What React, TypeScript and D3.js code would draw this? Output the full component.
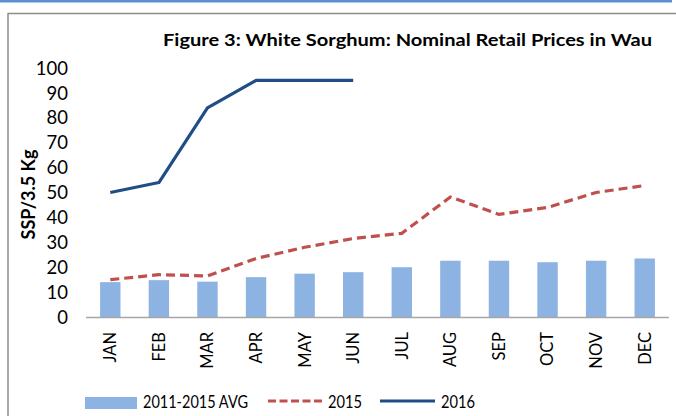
import * as d3 from "d3";

const months = ["JAN", "FEB", "MAR", "APR", "MAY", "JUN", "JUL", "AUG", "SEP", "OCT", "NOV", "DEC"];
const avg20112015 = [14, 14.8, 14.2, 16, 17.4, 18, 20, 22.6, 22.6, 22, 22.6, 23.5];
const prices2015 = [15, 17, 16.5, 23.5, 28, 31.5, 33.6, 48.2, 41.2, 44, 50, 52.8];
const prices2016 = [50, 54, 84, 95, 95, 95];
const yTicks = [0, 10, 20, 30, 40, 50, 60, 70, 80, 90, 100];

const WIDTH = 676;
const HEIGHT = 416;
const M = { left: 86, right: 669, top: 68, bottom: 317 };
const FONT = "Lato, 'Open Sans', sans-serif";

export default function App() {
  const x = d3.scaleBand().domain(months).range([M.left, M.right]).paddingInner(0.58).paddingOuter(0.29);
  const xc = (m: string) => (x(m) as number) + x.bandwidth() / 2;
  const y = d3.scaleLinear().domain([0, 100]).range([M.bottom, M.top]);

  const line = d3
    .line<number>()
    .x((_, i) => xc(months[i]))
    .y((d) => y(d));

  return (
    <svg width={WIDTH} height={HEIGHT} style={{ position: "absolute", left: 0, top: 0 }} fontFamily={FONT}>
      <rect x={0} y={0} width={WIDTH} height={HEIGHT} fill="#fff" />
      <rect x={0} y={0} width={672} height={2.5} fill="#5b8fd0" />
      <line x1={8} x2={WIDTH} y1={13.5} y2={13.5} stroke="#8c8c8c" strokeWidth={1.5} />
      <line x1={8} x2={8} y1={13} y2={HEIGHT} stroke="#8c8c8c" strokeWidth={1.5} />

      <text x={163} y={46} fontSize={17} fontWeight="bold" fill="#000" textLength={489} lengthAdjust="spacingAndGlyphs">
        Figure 3: White Sorghum: Nominal Retail Prices in Wau
      </text>

      {yTicks.map((t) => (
        <text key={t} x={68} y={y(t)} dy="0.36em" textAnchor="end" fontSize={18.5} fill="#000">
          {t}
        </text>
      ))}
      <text
        transform={`translate(29,${(M.top + M.bottom) / 2 + 2}) rotate(-90)`}
        textAnchor="middle"
        dy="0.35em"
        fontSize={18}
        fontWeight="bold"
        fill="#000"
      >
        SSP/3.5 Kg
      </text>

      {avg20112015.map((v, i) => (
        <rect
          key={months[i]}
          x={x(months[i])}
          y={y(v)}
          width={x.bandwidth()}
          height={y(0) - y(v)}
          fill="#8db3e2"
        />
      ))}

      <line x1={M.left} x2={M.right} y1={M.bottom + 0.5} y2={M.bottom + 0.5} stroke="#a6a6a6" strokeWidth={1.5} />

      {months.map((m) => (
        <text
          key={m}
          transform={`translate(${xc(m)},${M.bottom + 15}) rotate(-90)`}
          textAnchor="end"
          dy="0.36em"
          fontSize={16.5}
          fill="#000"
        >
          {m}
        </text>
      ))}

      <path d={line(prices2015) ?? ""} fill="none" stroke="#c0504d" strokeWidth={3.2} strokeDasharray="9,5" />
      <path d={line(prices2016) ?? ""} fill="none" stroke="#1f4e86" strokeWidth={3.2} strokeLinejoin="round" />

      <g fontSize={16.5} fill="#000">
        <rect x={85} y={397} width={52} height={12} fill="#8db3e2" />
        <text x={143} y={402.5} dy="0.36em" textLength={105} lengthAdjust="spacingAndGlyphs">2011-2015 AVG</text>
        <line x1={268} x2={322} y1={401} y2={401} stroke="#c0504d" strokeWidth={3.2} strokeDasharray="8,3.5" />
        <text x={328} y={402.5} dy="0.36em" textLength={34} lengthAdjust="spacingAndGlyphs">2015</text>
        <line x1={380} x2={435} y1={401} y2={401} stroke="#1f4e86" strokeWidth={3.2} />
        <text x={441} y={402.5} dy="0.36em" textLength={34} lengthAdjust="spacingAndGlyphs">2016</text>
      </g>
    </svg>
  );
}
